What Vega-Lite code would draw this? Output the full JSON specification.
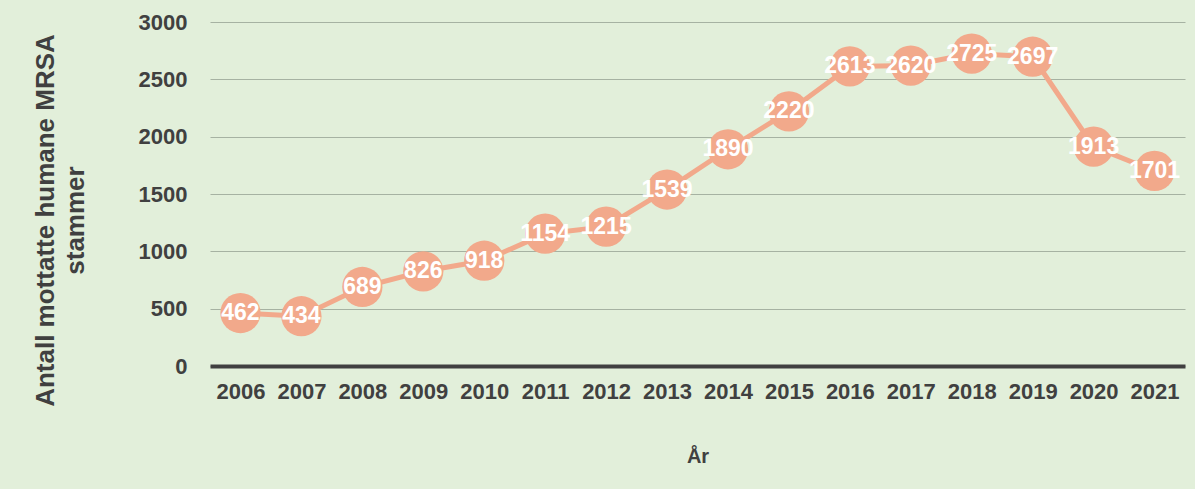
{
  "$schema": "https://vega.github.io/schema/vega-lite/v6.json",
  "width": 975,
  "height": 344,
  "autosize": "none",
  "padding": {"left": 210, "top": 22, "right": 10, "bottom": 123},
  "background": "#E2EFDA",
  "config": {
    "view": {"stroke": null},
    "font": "Liberation Sans"
  },
  "data": {
    "values": [
      {"year": "2006", "n": 462},
      {"year": "2007", "n": 434},
      {"year": "2008", "n": 689},
      {"year": "2009", "n": 826},
      {"year": "2010", "n": 918},
      {"year": "2011", "n": 1154},
      {"year": "2012", "n": 1215},
      {"year": "2013", "n": 1539},
      {"year": "2014", "n": 1890},
      {"year": "2015", "n": 2220},
      {"year": "2016", "n": 2613},
      {"year": "2017", "n": 2620},
      {"year": "2018", "n": 2725},
      {"year": "2019", "n": 2697},
      {"year": "2020", "n": 1913},
      {"year": "2021", "n": 1701}
    ]
  },
  "encoding": {
    "x": {
      "field": "year",
      "type": "ordinal",
      "scale": {"paddingInner": 0, "paddingOuter": 0},
      "axis": {
        "title": "År",
        "labelAngle": 0,
        "labelFont": "Liberation Sans",
        "labelFontSize": 22,
        "labelFontWeight": "bold",
        "labelColor": "#404040",
        "labelPadding": 15,
        "ticks": false,
        "domainColor": "#404040",
        "domainWidth": 4,
        "titleFont": "Liberation Sans",
        "titleFontSize": 20,
        "titleFontWeight": "bold",
        "titleColor": "#404040",
        "titlePadding": 44
      }
    },
    "y": {
      "field": "n",
      "type": "quantitative",
      "scale": {"domain": [0, 3000]},
      "axis": {
        "title": ["Antall mottatte humane MRSA", "stammer"],
        "values": [0, 500, 1000, 1500, 2000, 2500, 3000],
        "format": "d",
        "labelFont": "Liberation Sans",
        "labelFontSize": 22,
        "labelFontWeight": "bold",
        "labelColor": "#404040",
        "labelPadding": 23,
        "ticks": false,
        "domain": false,
        "gridColor": "#A6B2A2",
        "gridWidth": 1.2,
        "titleFont": "Liberation Sans",
        "titleFontSize": 26,
        "titleFontWeight": "bold",
        "titleColor": "#404040",
        "titleLineHeight": 30,
        "titleX": -152,
        "titleY": 198
      }
    }
  },
  "layer": [
    {
      "mark": {"type": "line", "color": "#F2A98B", "strokeWidth": 5}
    },
    {
      "mark": {"type": "point", "filled": true, "color": "#F2A98B", "opacity": 1, "size": 1620}
    },
    {
      "mark": {"type": "text", "color": "white", "fontSize": 23, "fontWeight": "bold", "font": "Liberation Sans", "baseline": "middle"},
      "encoding": {"text": {"field": "n", "type": "quantitative", "format": "d"}}
    }
  ]
}
